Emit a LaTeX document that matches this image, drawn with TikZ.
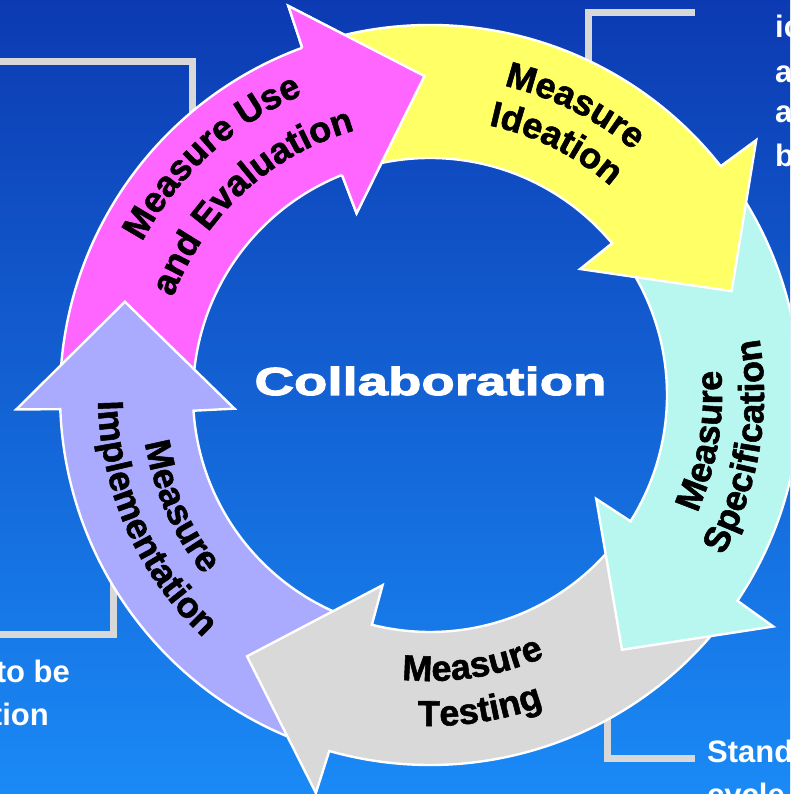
\documentclass[tikz,border=0pt]{standalone}
\usepackage{fontspec}
\setmainfont{Liberation Sans}
\newfontfamily\collabfont{Liberation Sans}[FakeStretch=1.4, BoldFeatures={FakeBold=3}]
\newfontfamily\lblfam{Liberation Sans}[BoldFeatures={FakeBold=1.5}]
\usetikzlibrary{decorations.text}
\definecolor{bgtop}{RGB}{12,58,178}
\definecolor{bgbot}{RGB}{26,138,246}
\definecolor{cpink}{RGB}{255,102,255}
\definecolor{cyellow}{RGB}{255,255,102}
\definecolor{ccyan}{RGB}{183,247,239}
\definecolor{cgray}{RGB}{217,217,217}
\definecolor{clav}{RGB}{170,170,255}
\definecolor{cbracket}{RGB}{216,216,216}
\newcommand\lblfont{\lblfam\fontsize{36pt}{40pt}\selectfont\bfseries}
\newcommand\sidefont{\fontsize{31pt}{36pt}\selectfont\bfseries}
% #1 tip angle, #2 colour
\newcommand\cyclearrow[2]{%
  \filldraw[arrowshape, fill=#2] ({#1+19.2}:370pt) -- ({#1+19}:414pt) -- (#1:319pt)
    -- ({#1+21}:196pt) -- ({#1+20.8}:237pt)
    arc[start angle={#1+20.8}, end angle={#1+89}, radius=237pt]
    -- ({#1+89}:370pt)
    arc[start angle={#1+89}, end angle={#1+19.2}, radius=370pt] -- cycle;}
% #1 text, #2 start angle, #3 end angle, #4 radius
\newcommand\arclabel[4]{%
  \path[decorate, decoration={text along path, text align=center,
    text={|\lblfont|#1}}] (#2:#4) arc[start angle=#2, end angle=#3, radius=#4];}
\tikzset{
  arrowshape/.style={draw=white, line width=2.4pt, line join=miter},
  bracket/.style={draw=cbracket, line width=7pt, line join=miter},
  sidetext/.style={text=white, font=\sidefont, inner sep=0pt},
}
\begin{document}
\begin{tikzpicture}[x=1pt,y=1pt]
\useasboundingbox (0,0) rectangle (790,794);
\clip (0,0) rectangle (790,794);
\shade[top color=bgtop, bottom color=bgbot] (0,0) rectangle (790,794);
% brackets
\draw[bracket] (695,781) -- (588,781) -- (588,700);
\draw[bracket] (-5,732) -- (192,732) -- (192,654);
\draw[bracket] (-5,159) -- (113,159) -- (113,234);
\draw[bracket] (695,35) -- (607,35) -- (607,104);
% side texts
\node[sidetext, anchor=base west] (t1) at (775,756) {ic};
\node[sidetext, anchor=base west] (t2) at (775,711) {a};
\node[sidetext, anchor=base west] (t3) at (775,671) {a};
\node[sidetext, anchor=base west] (t4) at (775,627) {b};
\node[sidetext, anchor=base east] (t5) at (70,111) {to be};
\node[sidetext, anchor=base east] (t6) at (49,68) {tion};
\node[sidetext, anchor=base west] (t7) at (707,31) {Stand};
\node[sidetext, anchor=base west] (t8) at (707,-12) {cycle};
% cycle
\begin{scope}[shift={(430,399)}]
  \cyclearrow{91}{cpink}
  \cyclearrow{163}{clav}
  \cyclearrow{-125}{cgray}
  \cyclearrow{-53}{ccyan}
  \cyclearrow{19}{cyellow}
  % pink head on top of yellow tail
  \fill[cpink] (110.2:370pt) -- (110:414pt) -- (91:319pt) -- (112:196pt) -- (111.8:237pt) -- cycle;
  \draw[arrowshape] (110.2:370pt) -- (110:414pt) -- (91:319pt) -- (112:196pt) -- (111.8:237pt);
  % labels
  \arclabel{Measure Use}{192.5}{72.5}{326pt}
  \arclabel{and Evaluation}{192.5}{72.5}{275pt}
  \arclabel{Measure}{123.4}{3.4}{318pt}
  \arclabel{Ideation}{123.4}{3.4}{276pt}
  \arclabel{Measure}{-69.5}{50.5}{292pt}
  \arclabel{Specification}{-69.5}{50.5}{334pt}
  \arclabel{Measure}{-141}{-21}{286pt}
  \arclabel{Testing}{-141}{-21}{331pt}
  \arclabel{Measure}{144}{264}{289pt}
  \arclabel{Implementation}{144}{264}{332pt}
\end{scope}
\node[text=white, font=\collabfont\bfseries\fontsize{39pt}{44pt}\selectfont,
  anchor=base, inner sep=0pt] (collab) at (430.5,399) {Collaboration};
\end{tikzpicture}
\end{document}
